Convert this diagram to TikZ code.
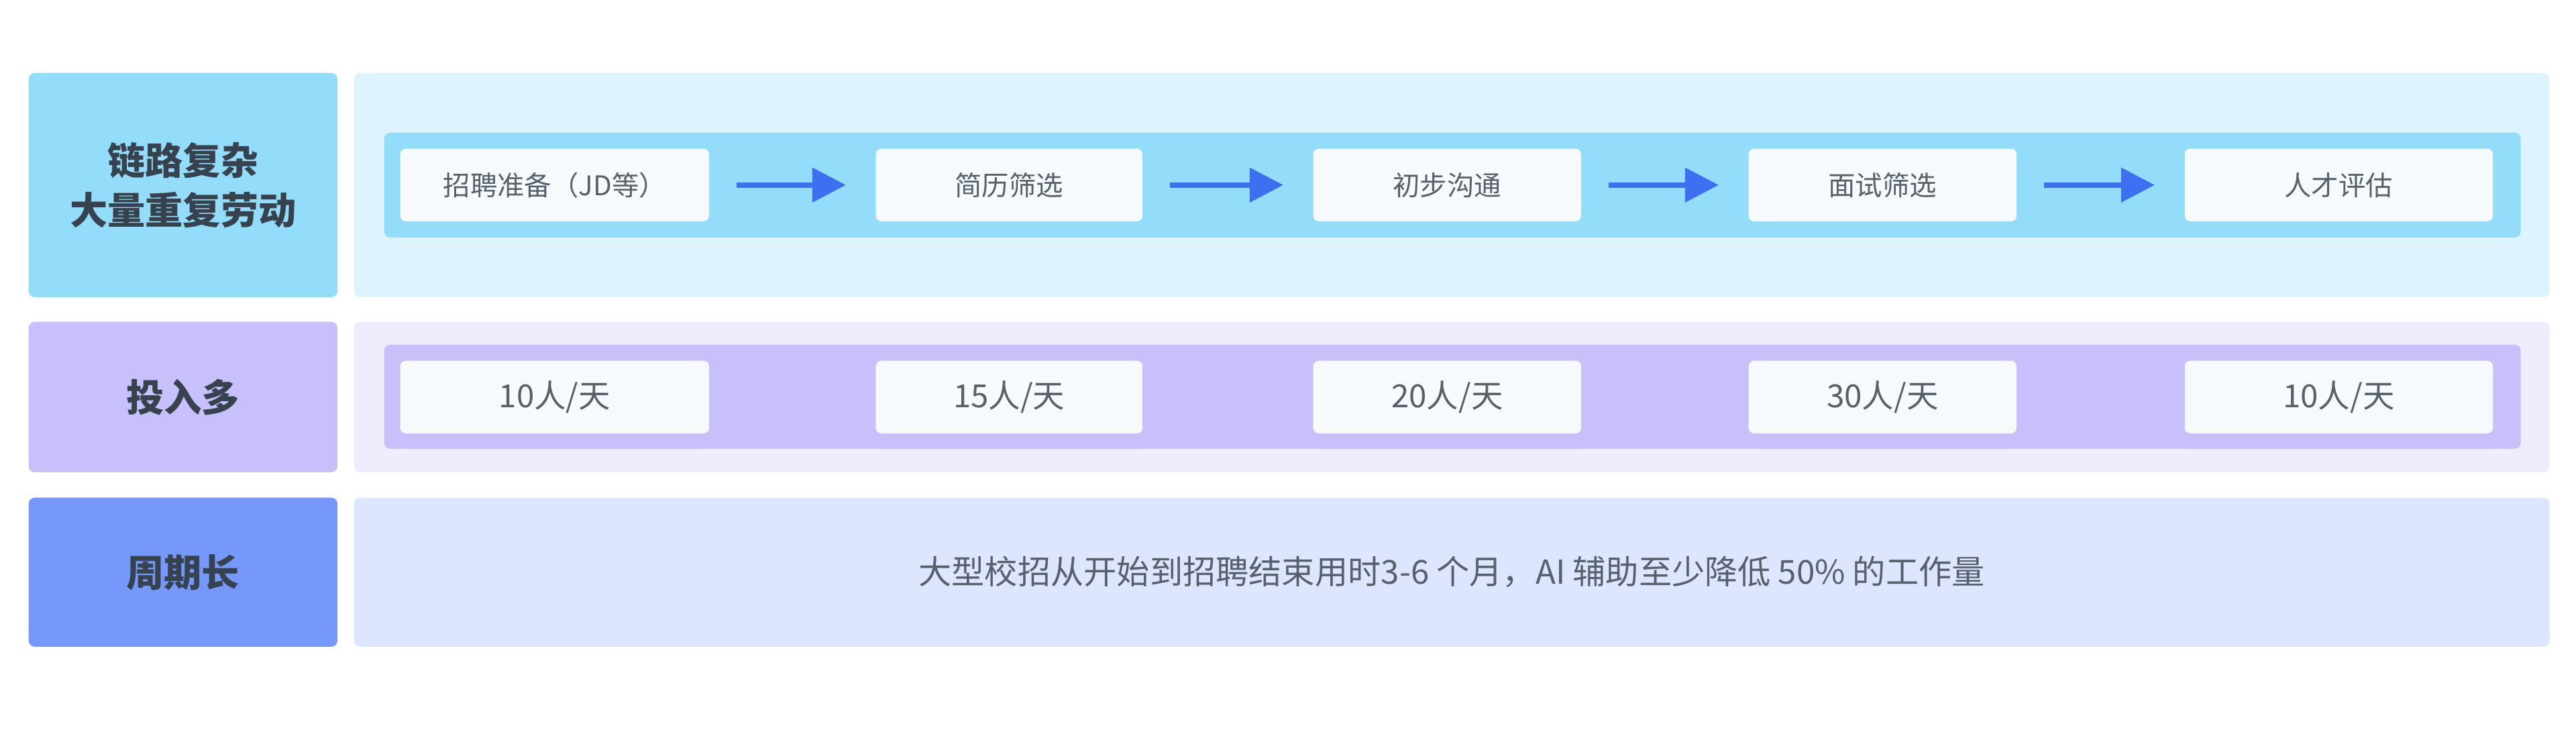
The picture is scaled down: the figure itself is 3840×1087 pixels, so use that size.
\documentclass[tikz,border=0pt]{standalone}
\usepackage{fontspec}
\setmainfont{Noto Sans CJK SC}
\usetikzlibrary{arrows.meta}
\definecolor{cyanA}{HTML}{93DDFA}
\definecolor{cyanB}{HTML}{DDF3FE}
\definecolor{violetA}{HTML}{C8C0FA}
\definecolor{violetB}{HTML}{EFEDFD}
\definecolor{blueA}{HTML}{7598FA}
\definecolor{blueB}{HTML}{DEE5FE}
\definecolor{cardbg}{HTML}{F7FAFD}
\definecolor{arrowblue}{HTML}{3D6FF0}
\definecolor{inkdark}{HTML}{36424E}
\definecolor{inkgray}{HTML}{56616C}
\tikzset{
  panel/.style={rounded corners=0.09cm, inner sep=0pt, anchor=north west},
  tag/.style={panel, text=inkdark, font=\fontsize{16}{21}\selectfont\bfseries, align=center},
  card/.style={fill=cardbg, rounded corners=0.08cm, inner sep=0pt, text=inkgray,
    minimum height=1.08cm, anchor=north west},
  flow/.style={-{Triangle[length=0.5cm,width=0.5cm]}, line width=0.08cm, arrowblue,
    shorten <=0.4cm, shorten >=0.44cm}
}
\begin{document}
\begin{tikzpicture}[x=0.01cm,y=-0.01cm]
\fill[white] (0,0) rectangle (3840,1087);
% row 1
\node[tag, fill=cyanA, minimum width=4.6cm, minimum height=3.34cm] (lab1) at (42,108) {链路复杂\\大量重复劳动};
\node[panel, fill=cyanB, minimum width=32.71cm, minimum height=3.34cm] (bg1) at (527,108) {};
\node[panel, fill=cyanA, minimum width=31.83cm, minimum height=1.56cm] (band1) at (572,197) {};
\node[card, minimum width=4.6cm, font=\fontsize{11.5}{14}\selectfont] (s1) at (596,221) {招聘准备（JD等）};
\node[card, minimum width=3.97cm, font=\fontsize{11.5}{14}\selectfont] (s2) at (1305,221) {简历筛选};
\node[card, minimum width=3.99cm, font=\fontsize{11.5}{14}\selectfont] (s3) at (1957,221) {初步沟通};
\node[card, minimum width=3.99cm, font=\fontsize{11.5}{14}\selectfont] (s4) at (2606,221) {面试筛选};
\node[card, minimum width=4.59cm, font=\fontsize{11.5}{14}\selectfont] (s5) at (3256,221) {人才评估};
\foreach \a/\b in {s1/s2,s2/s3,s3/s4,s4/s5}
  \draw[flow] (\a.east) -- (\b.west);
% row 2
\node[tag, fill=violetA, minimum width=4.6cm, minimum height=2.24cm] (lab2) at (42,479) {投入多};
\node[panel, fill=violetB, minimum width=32.71cm, minimum height=2.24cm] (bg2) at (527,479) {};
\node[panel, fill=violetA, minimum width=31.83cm, minimum height=1.55cm] (band2) at (572,513) {};
\node[card, minimum width=4.6cm, font=\fontsize{13.5}{16}\selectfont] (v1) at (596,537) {10人/天};
\node[card, minimum width=3.97cm, font=\fontsize{13.5}{16}\selectfont] (v2) at (1305,537) {15人/天};
\node[card, minimum width=3.99cm, font=\fontsize{13.5}{16}\selectfont] (v3) at (1957,537) {20人/天};
\node[card, minimum width=3.99cm, font=\fontsize{13.5}{16}\selectfont] (v4) at (2606,537) {30人/天};
\node[card, minimum width=4.59cm, font=\fontsize{13.5}{16}\selectfont] (v5) at (3256,537) {10人/天};
% row 3
\node[tag, fill=blueA, minimum width=4.6cm, minimum height=2.22cm] (lab3) at (42,741) {周期长};
\node[panel, fill=blueB, minimum width=32.71cm, minimum height=2.22cm, text=inkgray,
  font=\fontsize{14}{17}\selectfont] (bg3) at (527,741) {大型校招从开始到招聘结束用时3-6 个月，AI 辅助至少降低 50\% 的工作量};
\end{tikzpicture}
\end{document}
